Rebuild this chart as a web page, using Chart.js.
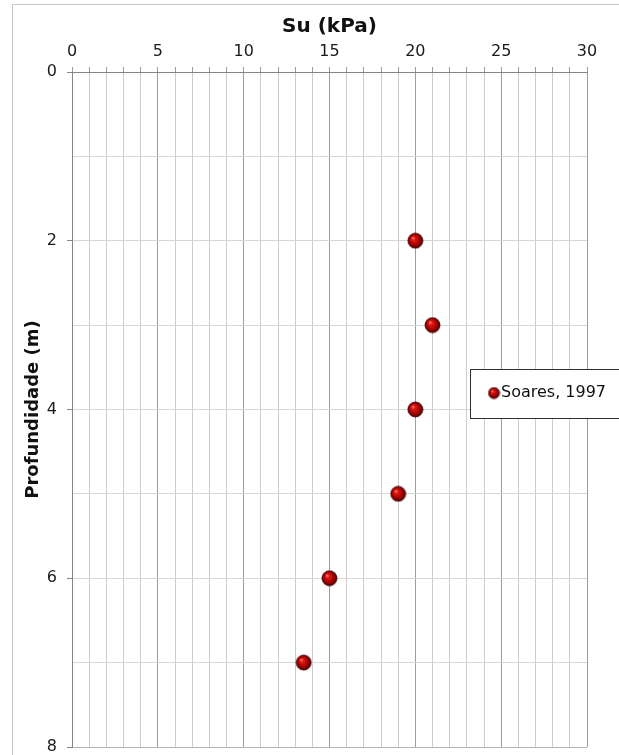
<!DOCTYPE html>
<html>
<head>
<meta charset="utf-8">
<script src="https://cdn.jsdelivr.net/npm/chart.js@4.4.1/dist/chart.umd.min.js"></script>
<style>
  body { margin: 0; background: #fff; }
  #wrap { width: 619px; height: 755px; }
</style>
</head>
<body>
<div id="wrap"><canvas id="myChart" width="619" height="755"></canvas></div>
<script>
// data
const su = [20, 21, 20, 19, 15, 13.5];
const depth = [2, 3, 4, 5, 6, 7];
const seriesName = 'Soares, 1997';
const xTicks = [0, 5, 10, 15, 20, 25, 30];
const yTicks = [0, 2, 4, 6, 8];

// little shaded red ball for the markers
function makeBall(r) {
  let c = document.createElement('canvas');
  let s = Math.ceil(r * 2 + 2);
  c.width = s; c.height = s;
  let g = c.getContext('2d');
  let cx = s / 2, cy = s / 2;
  let grad = g.createRadialGradient(cx - r * 0.35, cy - r * 0.4, 0, cx, cy, r);
  grad.addColorStop(0, '#ff9a90');
  grad.addColorStop(0.25, '#e01a12');
  grad.addColorStop(0.7, '#a40000');
  grad.addColorStop(1, '#4a0000');
  g.beginPath();
  g.arc(cx, cy, r, 0, Math.PI * 2);
  g.fillStyle = grad;
  g.fill();
  g.lineWidth = 0.8;
  g.strokeStyle = '#3a0000';
  g.stroke();
  return c;
}
const ball = makeBall(7.5);
const smallBall = makeBall(5.5);

const points = su.map((v, i) => ({ x: v, y: depth[i] }));

const frame = {
  id: 'frame',
  beforeDraw(chart) {
    let ctx = chart.ctx;
    ctx.save();
    ctx.fillStyle = '#fff';
    ctx.fillRect(0, 0, chart.width, chart.height);
    ctx.strokeStyle = '#c8c8c8';
    ctx.lineWidth = 1;
    ctx.strokeRect(12.5, 4.5, 700, 800);
    ctx.restore();
  },
  afterDraw(chart) {
    let ctx = chart.ctx;
    ctx.save();
    ctx.fillStyle = '#fff';
    ctx.fillRect(470.5, 369.5, 200, 49);
    ctx.strokeStyle = '#303030';
    ctx.lineWidth = 1;
    ctx.strokeRect(470.5, 369.5, 200, 49);
    ctx.drawImage(smallBall, 494 - smallBall.width / 2, 393 - smallBall.height / 2);
    ctx.fillStyle = '#111';
    ctx.font = '16px "DejaVu Sans"';
    ctx.textBaseline = 'middle';
    ctx.fillText(chart.data.datasets[0].label, 501, 393);
    ctx.restore();
  }
};

const myconfig = {
  type: 'scatter',
  data: {
    datasets: [{
      label: seriesName,
      data: points,
      pointStyle: ball,
      pointRadius: 7,
      pointHoverRadius: 7,
      showLine: false
    }]
  },
  options: {
    responsive: false,
    animation: false,
    layout: { padding: { top: 0, left: 0, right: 32, bottom: 8 } },
    plugins: {
      legend: { display: false },
      tooltip: { enabled: false }
    },
    scales: {
      x: {
        type: 'linear',
        position: 'top',
        min: 0,
        max: 30,
        afterFit: (s) => { s.height = 72; s.paddingLeft = 0; s.paddingRight = 0; },
        ticks: {
          stepSize: 1,
          autoSkip: false,
          maxRotation: 0,
          padding: 6,
          color: '#1a1a1a',
          font: { family: 'DejaVu Sans', size: 16 },
          callback: (v) => xTicks.includes(v) ? String(v) : ''
        },
        grid: {
          color: (c) => c.tick && c.tick.value % 5 === 0 ? '#9c9c9c' : '#cdcdcd',
          tickLength: 5,
          tickColor: '#9c9c9c'
        },
        border: { color: '#868686' },
        title: {
          display: true,
          text: 'Su (kPa)',
          color: '#111',
          font: { family: 'DejaVu Sans', size: 20, weight: 'bold' },
          padding: { top: 15, bottom: 0 }
        }
      },
      y: {
        type: 'linear',
        reverse: true,
        min: 0,
        max: 8,
        afterFit: (s) => { s.width = 72; s.paddingTop = 0; s.paddingBottom = 0; },
        ticks: {
          stepSize: 1,
          autoSkip: false,
          padding: 10,
          color: '#1a1a1a',
          font: { family: 'DejaVu Sans', size: 16 },
          callback: (v) => yTicks.includes(v) ? String(v) : ''
        },
        grid: {
          color: (c) => c.tick && c.tick.value === 8 ? '#b4b4b4' : '#d6d6d6',
          tickLength: 5,
          tickColor: (c) => c.tick && c.tick.value % 2 === 0 ? '#868686' : 'rgba(0,0,0,0)'
        },
        border: { color: '#868686' },
        title: {
          display: true,
          text: 'Profundidade (m)',
          color: '#111',
          font: { family: 'DejaVu Sans', size: 18, weight: 'bold' },
          padding: { top: 23, bottom: 0 }
        }
      }
    }
  },
  plugins: [frame]
};

const myChart = new Chart(document.getElementById('myChart'), myconfig);
</script>
</body>
</html>
